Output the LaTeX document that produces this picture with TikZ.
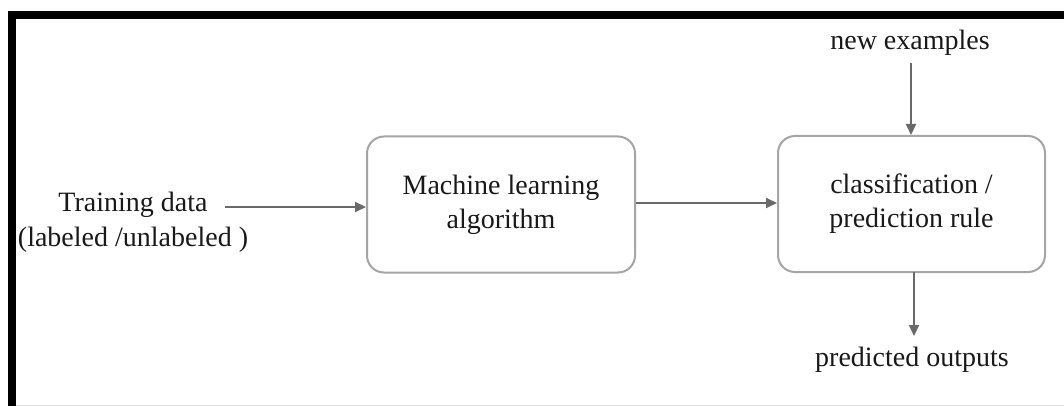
\documentclass[tikz,border=0pt]{standalone}
\usepackage{fontspec}
\setmainfont{Liberation Serif}
\usetikzlibrary{arrows.meta}
\definecolor{boxgray}{RGB}{165,165,165}
\definecolor{arrgray}{RGB}{105,105,105}
\definecolor{txt}{RGB}{25,25,25}
\tikzset{
  box/.style={draw=boxgray, line width=2pt, rounded corners=17pt, minimum width=268pt, minimum height=136pt, align=center, text=txt, font=\fontsize{28}{34}\selectfont},
  lbl/.style={align=center, text=txt, font=\fontsize{28}{35}\selectfont, inner sep=0pt},
  arr/.style={draw=arrgray, line width=2pt, -{Triangle[length=11pt,width=10pt]}}
}
\begin{document}
\begin{tikzpicture}[x=1pt,y=-1pt]
\useasboundingbox (0,0) rectangle (1064,406);
\fill[white] (0,0) rectangle (1064,406);
% frame
\fill[black] (8,11) rectangle (1064,19);
\fill[black] (8,11) rectangle (16,406);
\draw[black!12, line width=1pt] (16,405) -- (1064,405);
% nodes
\node[box] (ml) at (501,204.5) {Machine learning\\algorithm};
\node[box, minimum width=267pt] (rule) at (911.5,204) {classification /\\prediction rule};
\node[lbl] (train) at (133,222) {Training data\\(labeled /unlabeled )};
\node[lbl] (new) at (910,43) {new examples};
\node[lbl] (out) at (912,360) {predicted outputs};
\coordinate (tstart) at (225,207);
\coordinate (nstart) at (911,63);
% connectors
\draw[arr] (tstart) -- (tstart -| ml.west);
\draw[arr] (ml.east |- 0,203) -- (rule.west |- 0,203);
\draw[arr] (nstart) -- (nstart |- rule.north);
\draw[arr] (914,272) -- (914,336);
\end{tikzpicture}
\end{document}
